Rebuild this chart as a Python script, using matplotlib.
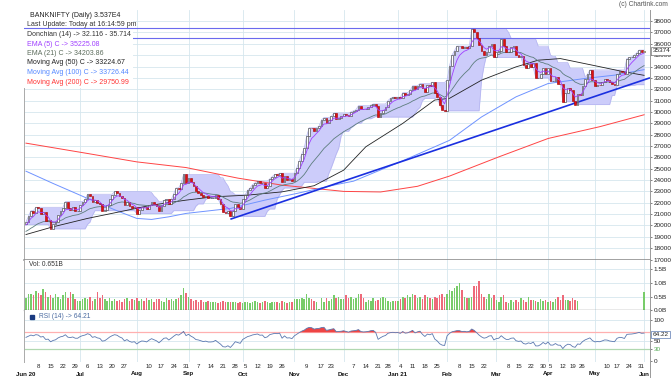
import numpy as np
import pandas as pd
import matplotlib
matplotlib.use('Agg')
import matplotlib.pyplot as plt
from matplotlib.patches import Rectangle
from matplotlib.lines import Line2D
import matplotlib.transforms as mtrans

plt.rcParams['font.family'] = ['Liberation Sans', 'DejaVu Sans']

# ---- trading calendar (NSE), incl. Diwali muhurat session ----
holidays = ['2020-10-02', '2020-11-16', '2020-11-30', '2020-12-25', '2021-01-26',
            '2021-03-11', '2021-03-29', '2021-04-02', '2021-04-14', '2021-04-21', '2021-05-13']
extra_sessions = ['2020-11-14']

# ---- daily closes ----
close_jun20 = [20300, 20800, 21300, 21100, 21600, 21500, 21000, 21200, 20400, 20500,
               19700, 20100, 20300, 20900, 21300, 21500, 22100, 21500, 21400, 21600,
               21300, 21300]
close_jul20 = [21800, 22100, 22300, 22750, 22600, 22050, 22250, 22000, 21900, 21300,
               21400, 21800, 22300, 22700, 23000, 22900, 22600, 22400, 21800, 22100,
               21700, 21500, 21600]
close_aug20 = [21050, 21400, 21650, 21600, 21450, 21800, 22100, 21900, 21700, 21300,
               21700, 22200, 22300, 21900, 22300, 22800, 23300, 23200, 23700, 24500,
               23700]
close_sep20 = [24200, 23800, 23500, 23000, 22900, 22700, 22500, 22600, 22400, 22400,
               22450, 22700, 22300, 21900, 21200, 21100, 21300, 20800, 21250, 21850,
               21650, 21450]
close_oct20 = [22300, 22700, 23100, 23300, 23600, 23750, 23900, 23700, 23750, 23300,
               23500, 24100, 24300, 24500, 24450, 24600, 23800, 24400, 24000, 24050,
               23900]
close_nov20 = [24600, 25100, 25700, 26300, 26800, 27900, 28600, 28550, 28300, 28600,
               28750, 29300, 29500, 29000, 29250, 29600, 29900, 29400, 29500, 29600]
close_dec20 = [29800, 29700, 29600, 30000, 30100, 30200, 30550, 30300, 30250, 30300,
               30400, 30600, 30700, 30500, 29550, 29900, 30200, 30400, 31000, 31200,
               31300, 31250]
close_jan21 = [31300, 31200, 31700, 31500, 31600, 31900, 32300, 32000, 32300, 32500,
               32100, 31800, 32400, 32300, 32600, 31700, 31300, 30600, 30200, 30100]
close_feb21 = [32800, 34050, 35000, 35400, 35800, 35800, 35600, 35700, 35600, 35800,
               37300, 37000, 36500, 35900, 35400, 35050, 35250, 35850, 36000, 34800]
close_mar21 = [35300, 35400, 36400, 35800, 35300, 35300, 35700, 35800, 35000, 34800,
               34900, 34100, 33900, 34200, 34000, 34350, 33000, 33000, 33300, 33850,
               33300]
close_apr21 = [33850, 32700, 32700, 33100, 32500, 32450, 30900, 31650, 32100, 31950,
               31000, 30650, 31600, 31450, 32300, 32900, 33300, 33700, 32800]
close_may21 = [32300, 32400, 32350, 32600, 32900, 32850, 32600, 32500, 32400, 33300,
               33600, 33550, 33350, 34700, 34800, 34850, 35000, 35200, 35450, 35300]
close_jun21 = [35374]
first_open = 20100

# ---- volume (billions) ----
vol_jun20 = [0.45, 0.60, 0.58, 0.55, 0.70, 0.62, 0.55, 0.77, 0.65, 0.50, 0.55, 0.45,
             0.60, 0.50, 0.40, 0.55, 0.68, 0.45, 0.65, 0.60, 0.40, 0.35]
vol_jul20 = [0.35, 0.40, 0.45, 0.40, 0.50, 0.35, 0.40, 0.65, 0.45, 0.55, 0.40, 0.35,
             0.45, 0.35, 0.40, 0.35, 0.38, 0.32, 0.40, 0.45, 0.35, 0.40, 0.38]
vol_aug20 = [0.45, 0.35, 0.40, 0.35, 0.45, 0.38, 0.40, 0.30, 0.42, 0.40, 0.35, 0.30,
             0.45, 0.38, 0.40, 0.35, 0.40, 0.45, 0.55, 0.82, 0.62]
vol_sep20 = [0.50, 0.40, 0.35, 0.38, 0.30, 0.38, 0.30, 0.32, 0.35, 0.30, 0.30, 0.32,
             0.28, 0.30, 0.35, 0.32, 0.30, 0.30, 0.32, 0.30, 0.28, 0.30]
vol_oct20 = [0.28, 0.30, 0.32, 0.28, 0.30, 0.33, 0.30, 0.28, 0.30, 0.35, 0.30, 0.28,
             0.30, 0.32, 0.30, 0.28, 0.35, 0.30, 0.28, 0.30, 0.32]
vol_nov20 = [0.40, 0.42, 0.40, 0.45, 0.40, 0.60, 0.45, 0.42, 0.35, 0.30, 0.04, 0.45,
             0.30, 0.45, 0.35, 0.40, 0.55, 0.45, 0.50, 0.40]
vol_dec20 = [0.40, 0.55, 0.45, 0.50, 0.40, 0.45, 0.60, 0.58, 0.45, 0.32, 0.38, 0.35,
             0.45, 0.33, 0.38, 0.45, 0.48, 0.45, 0.35, 0.30, 0.35, 0.33]
vol_jan21 = [0.35, 0.40, 0.50, 0.45, 0.55, 0.50, 0.60, 0.55, 0.45, 0.50, 0.40, 0.55,
             0.50, 0.45, 0.42, 0.50, 0.45, 0.55, 0.60, 0.50]
vol_feb21 = [0.60, 0.75, 0.70, 0.80, 0.88, 0.98, 0.75, 0.50, 0.44, 0.44, 0.50, 0.88,
             0.90, 1.08, 0.60, 0.50, 0.40, 0.60, 0.45, 0.55]
vol_mar21 = [0.38, 0.32, 0.50, 0.56, 0.32, 0.28, 0.38, 0.32, 0.38, 0.32, 0.44, 0.38,
             0.32, 0.50, 0.38, 0.38, 0.35, 0.32, 0.40, 0.35, 0.38]
vol_apr21 = [0.32, 0.35, 0.32, 0.40, 0.50, 0.38, 0.55, 0.38, 0.36, 0.35, 0.45, 0.38, 0.35]
vol_missing_days = 26   # 23-Apr .. 31-May: no volume published
vol_last = 0.651

ma50_dates = ['2020-06-01', '2020-06-16', '2020-07-06', '2020-07-23', '2020-08-11',
              '2020-08-31', '2020-09-15', '2020-10-06', '2020-10-26', '2020-11-12',
              '2020-11-23', '2020-12-01', '2020-12-14', '2021-01-05', '2021-01-22',
              '2021-02-02', '2021-02-19', '2021-03-12', '2021-03-25', '2021-04-09',
              '2021-04-30', '2021-05-20', '2021-06-01']
ma50_vals = [19200, 19880, 20620, 21200, 21790, 22230, 22520, 22670, 22960, 23500,
             24300, 24870, 26930, 28990, 31050, 31200, 32800, 33970, 34560, 34700,
             34120, 33530, 33225]
ma100_dates = ['2020-06-01', '2020-06-16', '2020-07-06', '2020-07-23', '2020-08-03',
               '2020-08-11', '2020-08-20', '2020-08-31', '2020-09-24', '2020-10-15',
               '2020-11-03', '2020-11-25', '2020-12-07', '2021-01-05', '2021-02-02',
               '2021-02-19', '2021-03-12', '2021-04-01', '2021-04-27', '2021-05-14',
               '2021-06-01']
ma100_vals = [24780, 23700, 22380, 21200, 20620, 20530, 20760, 21060, 21500, 22230,
              22820, 23600, 23900, 25700, 27500, 29560, 31330, 32500, 32950, 33240,
              33726]
ma200_dates = ['2020-06-01', '2020-07-06', '2020-08-03', '2020-08-31', '2020-09-29',
               '2020-10-26', '2020-12-01', '2020-12-22', '2021-01-13', '2021-02-02',
               '2021-03-02', '2021-04-01', '2021-05-05', '2021-06-01']
ma200_vals = [27250, 26340, 25600, 25100, 24170, 23550, 23000, 22950, 23450, 24350,
              26040, 27660, 28700, 29751]

# seeds for the short indicators (state before 1-Jun-2020)
ema5_seed, ema21_seed = 19900, 19400
rsi_seed_gain, rsi_seed_loss = 300, 220

trend_dates = ['2020-09-24', '2021-06-01']
trend_vals = [20550, 32830]
hlines = [37360, 36470]

# ---- assemble ----
dates = pd.bdate_range('2020-06-01', '2021-06-01').drop(pd.to_datetime(holidays))
dates = dates.append(pd.to_datetime(extra_sessions)).sort_values()
n = len(dates)
x = np.arange(n)
pos = {d: i for i, d in enumerate(dates)}

closes = np.array(close_jun20 + close_jul20 + close_aug20 + close_sep20 + close_oct20 +
                  close_nov20 + close_dec20 + close_jan21 + close_feb21 + close_mar21 +
                  close_apr21 + close_may21 + close_jun21, dtype=float)
opens = np.r_[first_open, closes[:-1]]
vols = np.array(vol_jun20 + vol_jul20 + vol_aug20 + vol_sep20 + vol_oct20 + vol_nov20 +
                vol_dec20 + vol_jan21 + vol_feb21 + vol_mar21 + vol_apr21 +
                [np.nan] * vol_missing_days + [vol_last])

hi = np.maximum(opens, closes)
lo = np.minimum(opens, closes)
don_up = pd.Series(hi).rolling(14, min_periods=1).max()
don_lo = pd.Series(lo).rolling(14, min_periods=1).min()
ema5 = pd.Series(np.r_[ema5_seed, closes]).ewm(span=5, adjust=False).mean().values[1:]
ema21 = pd.Series(np.r_[ema21_seed, closes]).ewm(span=21, adjust=False).mean().values[1:]
delta = np.diff(closes)
g = pd.Series(np.r_[rsi_seed_gain, np.clip(delta, 0, None)]).ewm(alpha=1/14, adjust=False).mean()
l = pd.Series(np.r_[rsi_seed_loss, np.clip(-delta, 0, None)]).ewm(alpha=1/14, adjust=False).mean()
rsi = (100 - 100 / (1 + g / l)).values


def idx(ds):
    return [pos[pd.Timestamp(d)] for d in ds]


# ---- figure ----
W, H = 671, 379
fig = plt.figure(figsize=(W / 100, H / 100), dpi=100)
L, R = 24, 650


def box(top, bot):
    return [L / W, 1 - bot / H, (R - L) / W, (bot - top) / H]


ax_p = fig.add_axes(box(10, 259.5))
ax_v = fig.add_axes(box(259.5, 310.3))
ax_r = fig.add_axes(box(310.3, 362))

xlim = (-0.8, 253.4)
grid_c = '#d6e6ee'
month_first = [i for i in range(n) if i == 0 or dates[i].month != dates[i - 1].month]

for ax in (ax_p, ax_v, ax_r):
    ax.set_xlim(*xlim)
    ax.set_xticks([])
    for m in month_first[1:]:
        ax.axvline(m, color=grid_c, lw=0.6, zorder=0)
    ax.yaxis.tick_right()
    ax.tick_params(axis='y', labelsize=4.6, length=1.5, pad=1, colors='#222',
                   width=0.4)
    for s in ('top', 'bottom'):
        ax.spines[s].set_visible(False)
    ax.spines['left'].set_color('#aaa')
    ax.spines['right'].set_color('#999')
    ax.spines['left'].set_linewidth(0.7)
    ax.spines['right'].set_linewidth(0.7)

# price panel
ax_p.set_ylim(17000, 38980)
ax_p.set_yticks(range(17000, 38001, 1000))
for v in range(17000, 39000, 1000):
    ax_p.axhline(v, color=grid_c, lw=0.6, zorder=0)
ax_p.spines['bottom'].set_visible(True)
ax_p.spines['bottom'].set_color('#888')
ax_p.spines['bottom'].set_linewidth(1.1)

ax_p.fill_between(x, don_lo, don_up, color='#ccccfa', lw=0, zorder=1)
ax_p.plot(x, don_up, color='#b4b4f0', lw=0.5, zorder=1)
ax_p.plot(x, don_lo, color='#b4b4f0', lw=0.5, zorder=1)

ax_p.plot(idx(ma200_dates), ma200_vals, color='#ff4444', lw=0.7, zorder=2)
ax_p.plot(idx(ma100_dates), ma100_vals, color='#6f93ff', lw=0.7, zorder=2)
ax_p.plot(idx(ma50_dates), ma50_vals, color='#222222', lw=0.6, zorder=2)
ax_p.plot(x, ema21, color='#5d7d7d', lw=0.6, zorder=3)
ax_p.plot(x, ema5, color='#a040ff', lw=0.6, zorder=5)

# trend line extended to the right edge
tx = idx(trend_dates)
slope = (trend_vals[1] - trend_vals[0]) / (tx[1] - tx[0])
ax_p.plot([tx[0], xlim[1]], [trend_vals[0], trend_vals[1] + slope * (xlim[1] - tx[1])],
          color='#1a2fe0', lw=1.2, zorder=3, solid_capstyle='butt')

up = closes >= opens
ax_p.bar(x[up], (hi - lo)[up], bottom=lo[up], width=0.72, color='white',
         edgecolor='#333', lw=0.4, zorder=4)
ax_p.bar(x[~up], (hi - lo)[~up], bottom=lo[~up], width=0.72, color='#e01010',
         edgecolor='#a00000', lw=0.4, zorder=4)
ax_p.bar([x[-1]], [hi[-1] - lo[-1]], bottom=[lo[-1]], width=0.9, color='#ffee44',
         edgecolor='#888', lw=0.4, zorder=4)

# legend block
ax_p.add_patch(Rectangle((0, 0.688), 0.174, 0.312, transform=ax_p.transAxes,
                         fc='white', ec='none', zorder=6))
ax_p.axhline(hlines[0], color='#6a6aee', lw=0.8, zorder=7)
ax_p.axhline(hlines[1], color='#6a6aee', lw=0.8, zorder=2)

legend_rows = [
    ('BANKNIFTY (Daily) 3.537E4', '#222', 30, 15.7),
    ('Last Update: Today at 16:14:59 pm', '#333', 27, 25.0),
    ('Donchian (14) -> 32.116 - 35.714', '#333', 27, 34.7),
    ('EMA (5) C -> 35225.08', '#a040ff', 27, 44.0),
    ('EMA (21) C -> 34203.86', '#5d6d5d', 27, 53.7),
    ('Moving Avg (50) C -> 33224.67', '#222', 27, 63.0),
    ('Moving Avg (100) C -> 33726.44', '#5588ff', 27, 72.3),
    ('Moving Avg (200) C -> 29750.99', '#ff3333', 27, 82.0),
]
for txt, c, px, py in legend_rows:
    fig.text(px / W, 1 - py / H, txt, color=c, fontsize=5.0, va='center', ha='left',
             zorder=10)

fig.text(668 / W, 1 - 4.5 / H, '(c) Chartink.com', color='#555', fontsize=4.8,
         ha='right', va='center')

tr_p = mtrans.blended_transform_factory(ax_p.transAxes, ax_p.transData)
ax_p.text(1.004, closes[-1], '%d' % closes[-1], transform=tr_p, fontsize=4.6,
          va='center', ha='left', color='#222', zorder=20, clip_on=False,
          bbox=dict(boxstyle='square,pad=0.2', fc='white', ec='#777', lw=0.5))

# volume panel
ax_v.set_ylim(0, 1.854)
ax_v.set_yticks([0, 0.5, 1.0, 1.5])
ax_v.set_yticklabels(['0.0B', '0.5B', '1.0B', '1.5B'])
for v in (0.5, 1.0, 1.5):
    ax_v.axhline(v, color=grid_c, lw=0.6, zorder=0)
ax_v.spines['bottom'].set_visible(True)
ax_v.spines['bottom'].set_color('#555')
ax_v.spines['bottom'].set_linewidth(0.9)
vc = np.where(up, '#78cc6a', '#ee6a7a')
ok = ~np.isnan(vols)
ax_v.bar(x[ok], vols[ok], width=0.62, color=vc[ok], lw=0, zorder=2)
ax_v.text(0.008, 0.90, 'Vol: 0.651B', transform=ax_v.transAxes,
          fontsize=4.8, color='#333', va='center')

# RSI panel
ax_r.set_ylim(-2.4, 123.7)
ax_r.set_yticks([0, 30, 50, 100])
ax_r.set_yticklabels(['0', '30', '50', '100'])
ax_r.get_yticklabels()[1].set_color('#55aa55')
for v in (50, 100):
    ax_r.axhline(v, color=grid_c, lw=0.6, zorder=0)
ax_r.axhline(70, color='#ffb0b0', lw=0.9, zorder=1)
ax_r.axhline(30, color='#b0d8b0', lw=0.9, zorder=1)
ax_r.fill_between(x, 70, rsi, where=rsi > 70, interpolate=True, color='#ee4444',
                  lw=0, zorder=2)
ax_r.fill_between(x, 30, rsi, where=rsi < 30, interpolate=True, color='#66bb66',
                  lw=0, zorder=2)
ax_r.plot(x, rsi, color='#5a78b0', lw=0.6, zorder=3)
tr_r = mtrans.blended_transform_factory(ax_r.transAxes, ax_r.transData)
ax_r.text(1.004, 64.22, '64.22', transform=tr_r, fontsize=4.6, va='center', ha='left',
          color='#222', zorder=20, clip_on=False,
          bbox=dict(boxstyle='square,pad=0.2', fc='white', ec='#5a78b0', lw=0.5))
ax_r.plot([0.013], [0.88], transform=ax_r.transAxes, marker='s', ms=2.2,
          color='#1a3a80', clip_on=False)
ax_r.text(0.024, 0.88, 'RSI (14) -> 64.21', transform=ax_r.transAxes, fontsize=4.8,
          color='#4a6aa0', va='center')

# x labels: week starts (day numbers) and month starts
tr_x = mtrans.blended_transform_factory(ax_r.transData, fig.transFigure)
wk = dates.to_series().dt.isocalendar()
week_key = list(zip(wk['year'], wk['week']))
week_first = [i for i in range(n) if i == 0 or week_key[i] != week_key[i - 1]]
for i in week_first:
    if i in month_first:
        continue
    ax_r.text(i, 1 - 367 / H, str(dates[i].day), transform=tr_x, fontsize=4.4,
              ha='center', va='center', color='#222')
for i in month_first:
    d = dates[i]
    lab = d.strftime('%b') + (d.strftime(' %y') if i == 0 or d.month == 1 else '')
    ax_r.text(i, 1 - 374 / H, lab, transform=tr_x, fontsize=4.4, ha='center',
              va='center', color='#111', fontweight='bold')

fig.add_artist(Line2D([R / W, R / W], [1 - 362 / H, 1 - 377 / H], color='#999', lw=0.7))

fig.savefig('out.png', dpi=100)
